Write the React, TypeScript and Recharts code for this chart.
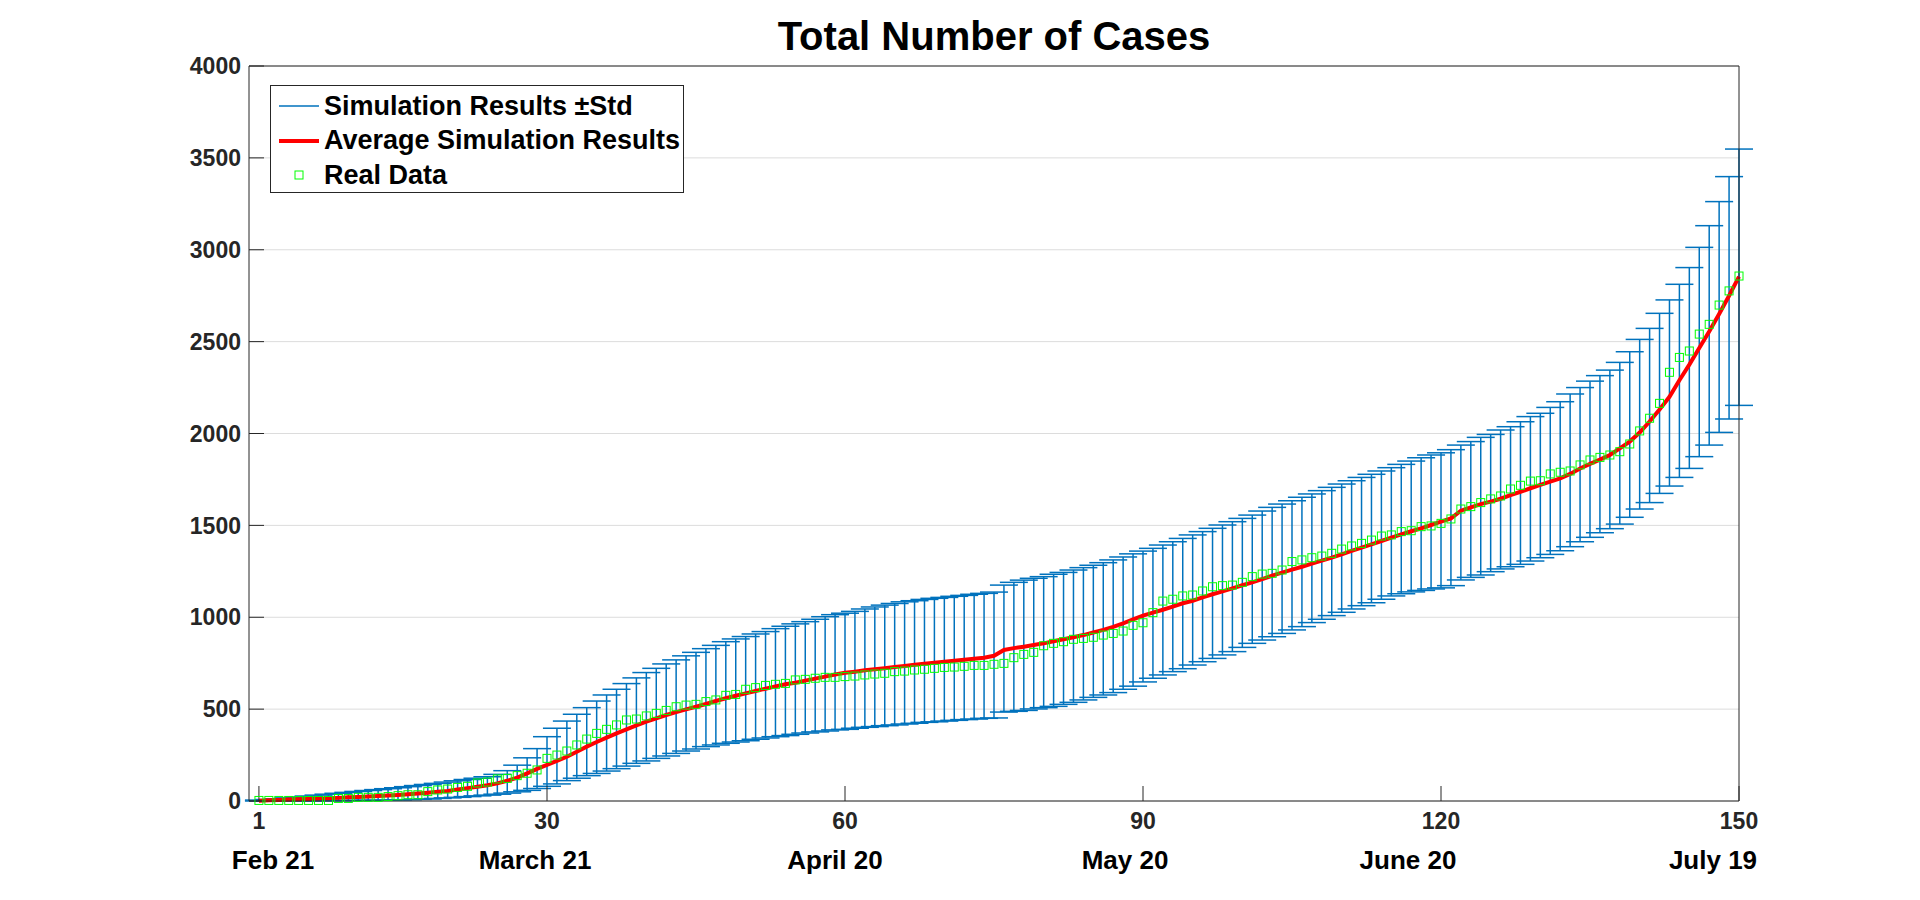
import React from "react";
import { ComposedChart, Line, Scatter, XAxis, YAxis, CartesianGrid, ErrorBar } from "recharts";

// day 1 .. 150
const upperStd = [
  5, 8, 12, 17, 22, 27, 32, 37, 42, 47,
  52, 57, 62, 67, 72, 78, 84, 90, 96, 103,
  110, 117, 124, 132, 145, 165, 195, 235, 285, 350,
  396, 435, 472, 508, 544, 577, 608, 639, 670, 699,
  722, 746, 768, 790, 809, 829, 847, 867, 882, 895,
  909, 922, 938, 951, 964, 976, 989, 1003, 1014, 1022,
  1032, 1045, 1056, 1066, 1075, 1084, 1090, 1097, 1103, 1108,
  1114, 1119, 1125, 1130, 1137, 1175, 1190, 1202, 1212, 1221,
  1234, 1244, 1257, 1270, 1283, 1297, 1312, 1328, 1345, 1360,
  1375, 1393, 1411, 1429, 1448, 1466, 1484, 1502, 1520, 1538,
  1556, 1578, 1598, 1616, 1634, 1653, 1671, 1689, 1707, 1725,
  1743, 1761, 1778, 1796, 1814, 1832, 1850, 1868, 1883, 1895,
  1912, 1937, 1956, 1979, 1995, 2019, 2037, 2064, 2092, 2110,
  2142, 2173, 2215, 2250, 2285, 2315, 2345, 2387, 2445, 2512,
  2572, 2654, 2727, 2812, 2903, 3013, 3131, 3262, 3398, 3548,
];

const lowerStd = [
  0, 0, 0, 1, 1, 1, 2, 2, 2, 3,
  3, 4, 4, 5, 6, 7, 9, 11, 14, 17,
  20, 24, 28, 32, 37, 43, 50, 58, 68, 80,
  93, 111, 124, 138, 150, 163, 176, 190, 205, 218,
  232, 245, 259, 272, 283, 296, 305, 314, 321, 328,
  336, 343, 350, 356, 363, 370, 376, 381, 387, 390,
  396, 401, 405, 410, 414, 419, 423, 428, 431, 435,
  439, 443, 446, 450, 452, 484, 488, 493, 501, 508,
  515, 526, 537, 550, 564, 577, 590, 608, 625, 648,
  668, 686, 704, 720, 740, 758, 776, 795, 813, 836,
  858, 876, 894, 912, 931, 949, 971, 989, 1009, 1027,
  1045, 1063, 1079, 1098, 1116, 1128, 1138, 1146, 1154, 1160,
  1172, 1203, 1217, 1230, 1248, 1263, 1275, 1288, 1306, 1324,
  1342, 1362, 1384, 1411, 1435, 1460, 1482, 1507, 1544, 1589,
  1624, 1674, 1714, 1761, 1810, 1874, 1937, 2006, 2079, 2153,
];

const averageSim = [
  2, 4, 6, 8, 9, 11, 13, 15, 17, 20,
  22, 24, 27, 30, 33, 37, 41, 45, 50, 55,
  62, 70, 78, 86, 96, 110, 127, 150, 175, 196,
  218, 241, 268, 296, 321, 345, 368, 390, 412, 432,
  450, 468, 484, 499, 513, 528, 544, 559, 573, 586,
  599, 611, 624, 635, 644, 655, 666, 677, 688, 698,
  704, 711, 717, 723, 729, 735, 741, 747, 752, 758,
  763, 769, 774, 780, 790, 822, 832, 840, 849, 858,
  869, 880, 891, 903, 917, 931, 948, 967, 988, 1009,
  1025, 1041, 1058, 1076, 1090, 1108, 1125, 1141, 1157, 1174,
  1190, 1208, 1226, 1243, 1259, 1275, 1292, 1308, 1324, 1342,
  1361, 1379, 1397, 1415, 1433, 1451, 1468, 1484, 1502, 1520,
  1538, 1580, 1598, 1616, 1629, 1645, 1665, 1683, 1702, 1720,
  1738, 1756, 1780, 1810, 1835, 1858, 1883, 1919, 1956, 2005,
  2065, 2130, 2200, 2290, 2375, 2465, 2555, 2650, 2750, 2854,
];

const realData = [
  3, 3, 3, 3, 3, 3, 3, 3, 14, 14,
  20, 20, 20, 24, 29, 34, 34, 51, 60, 65,
  74, 80, 98, 103, 120, 123, 138, 151, 169, 232,
  250, 272, 305, 337, 368, 390, 414, 441, 446, 463,
  477, 493, 513, 522, 526, 541, 550, 575, 580, 608,
  617, 629, 635, 640, 659, 662, 668, 673, 673, 677,
  680, 686, 691, 695, 704, 707, 713, 717, 722, 727,
  729, 733, 738, 738, 744, 749, 780, 798, 809, 845,
  858, 867, 880, 885, 891, 903, 912, 925, 956, 970,
  1025, 1088, 1098, 1116, 1121, 1143, 1166, 1172, 1175, 1190,
  1221, 1235, 1239, 1257, 1303, 1312, 1324, 1333, 1348, 1371,
  1388, 1402, 1420, 1442, 1448, 1466, 1471, 1493, 1497, 1511,
  1535, 1589, 1602, 1624, 1644, 1660, 1698, 1718, 1741, 1743,
  1780, 1789, 1796, 1829, 1856, 1870, 1883, 1901, 1943, 2014,
  2083, 2164, 2333, 2414, 2449, 2541, 2594, 2699, 2776, 2857,
];

const dayTicks = [1, 30, 60, 90, 120, 150];
const caseTicks = [0, 500, 1000, 1500, 2000, 2500, 3000, 3500, 4000];
const dateLabels = ["Feb 21", "March 21", "April 20", "May 20", "June 20", "July 19"];
const dateTicks = [2.4, 28.6, 58.6, 87.6, 115.9, 146.4];

const data = averageSim.map((v, i) => ({
  day: i + 1,
  mean: v,
  real: realData[i],
  mid: (upperStd[i] + lowerStd[i]) / 2,
  half: (upperStd[i] - lowerStd[i]) / 2,
}));

const FONT = "'Liberation Sans', Arial, Helvetica, sans-serif";
const AXIS = "#262626";
const BLUE = "#0072BD";

const Square = (props: any) => {
  const { cx, cy } = props;
  if (cx == null || cy == null) return null;
  return <rect x={cx - 4} y={cy - 4} width={8} height={8} fill="none" stroke="#00FF00" strokeWidth={1} />;
};

function LegendBox() {
  const row: React.CSSProperties = { display: "flex", alignItems: "center", height: 34.5 };
  const label: React.CSSProperties = { marginLeft: 5, fontSize: 27, fontWeight: "bold", color: "#000", whiteSpace: "nowrap" };
  return (
    <div
      style={{
        position: "absolute",
        left: 270,
        top: 85,
        width: 414,
        height: 108,
        border: `1px solid ${AXIS}`,
        background: "#fff",
        fontFamily: FONT,
        paddingTop: 3,
        boxSizing: "border-box",
      }}
    >
      <div style={row}>
        <svg width={48} height={20}>
          <line x1={8} y1={10} x2={48} y2={10} stroke={BLUE} strokeWidth={1.5} />
        </svg>
        <span style={label}>Simulation Results ±Std</span>
      </div>
      <div style={row}>
        <svg width={48} height={20}>
          <line x1={8} y1={10} x2={48} y2={10} stroke="#FF0000" strokeWidth={4} />
        </svg>
        <span style={label}>Average Simulation Results</span>
      </div>
      <div style={row}>
        <svg width={48} height={20}>
          <rect x={24} y={6} width={8} height={8} fill="none" stroke="#00FF00" strokeWidth={1} />
        </svg>
        <span style={label}>Real Data</span>
      </div>
    </div>
  );
}

export default function App() {
  return (
    <div style={{ position: "absolute", left: 0, top: 0, width: 1920, height: 900, background: "#fff" }}>
      <div
        style={{
          position: "absolute",
          left: 249,
          width: 1490,
          top: 16,
          textAlign: "center",
          fontFamily: FONT,
          fontWeight: "bold",
          fontSize: 40,
          lineHeight: "40px",
          color: "#000",
        }}
      >
        Total Number of Cases
      </div>
      <ComposedChart
        width={1920}
        height={900}
        data={data}
        margin={{ top: 56, right: 171, bottom: 29, left: 149 }}
      >
        <CartesianGrid vertical={false} stroke="#dcdcdc" strokeWidth={1} />
        <XAxis
          xAxisId="top"
          orientation="top"
          type="number"
          domain={[0, 150]}
          allowDataOverflow
          ticks={dayTicks}
          height={10}
          tick={false}
          tickSize={-15}
          stroke={AXIS}
        />
        <XAxis
          dataKey="day"
          type="number"
          domain={[0, 150]}
          ticks={dayTicks}
          interval={0}
          height={30}
          tickSize={-15}
          tickMargin={27}
          stroke={AXIS}
          tick={{ fontSize: 23, fontWeight: "bold", fill: AXIS, fontFamily: FONT }}
        />
        <XAxis
          xAxisId="dates"
          type="number"
          domain={[0, 150]}
          allowDataOverflow
          ticks={dateTicks}
          interval={0}
          height={40}
          axisLine={false}
          tickLine={false}
          tickSize={0}
          tickMargin={20}
          tickFormatter={(v: number) => dateLabels[dateTicks.indexOf(v)]}
          tick={{ fontSize: 26, fontWeight: "bold", fill: "#000", fontFamily: FONT }}
        />
        <YAxis
          type="number"
          domain={[0, 4000]}
          ticks={caseTicks}
          interval={0}
          width={100}
          tickSize={-15}
          tickMargin={23}
          stroke={AXIS}
          tick={{ fontSize: 23, fontWeight: "bold", fill: AXIS, fontFamily: FONT }}
        />
        <YAxis
          yAxisId="right"
          orientation="right"
          type="number"
          domain={[0, 4000]}
          allowDataOverflow
          ticks={caseTicks}
          width={10}
          tick={false}
          tickSize={-15}
          stroke={AXIS}
        />
        <Line
          dataKey="mid"
          stroke="none"
          dot={false}
          activeDot={false}
          isAnimationActive={false}
        >
          <ErrorBar dataKey="half" direction="y" width={14} stroke={BLUE} strokeWidth={1.5} isAnimationActive={false} />
        </Line>
        <Line
          dataKey="mean"
          type="linear"
          stroke="#FF0000"
          strokeWidth={4}
          dot={false}
          activeDot={false}
          isAnimationActive={false}
        />
        <Scatter dataKey="real" shape={Square} isAnimationActive={false} />
      </ComposedChart>
      <LegendBox />
    </div>
  );
}
